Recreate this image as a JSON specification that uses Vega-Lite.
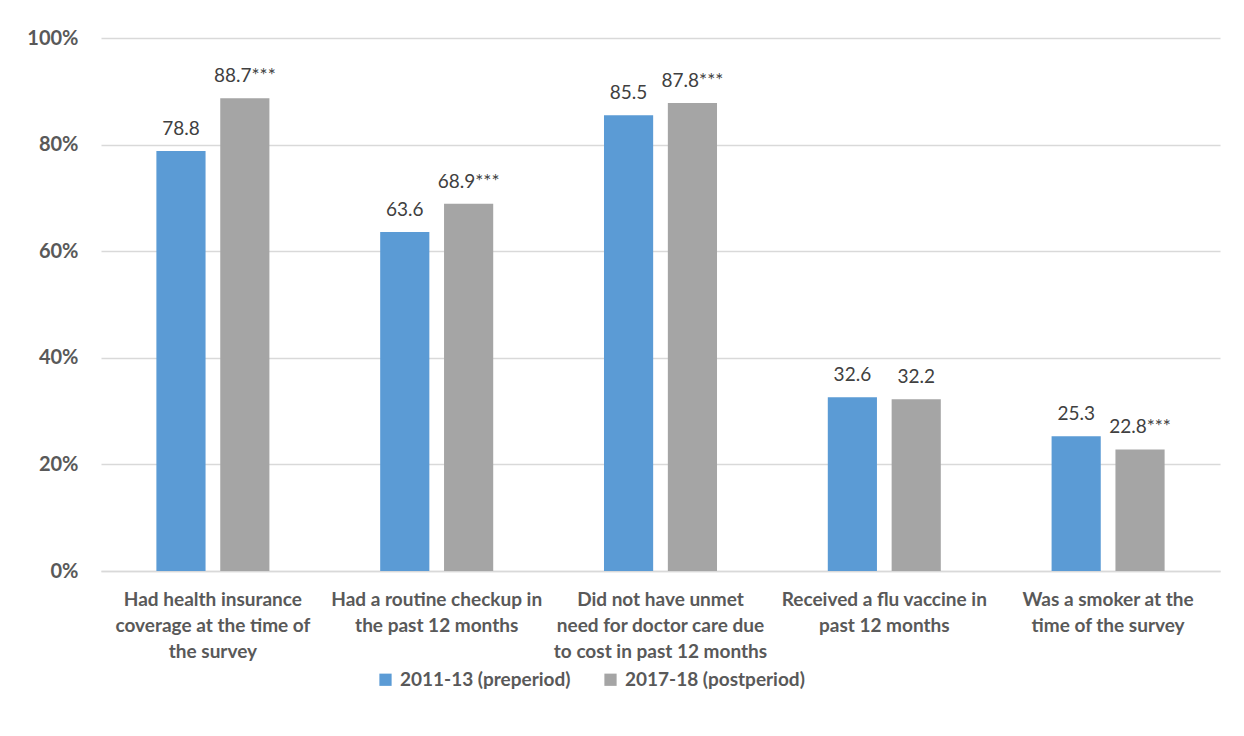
{
  "$schema": "https://vega.github.io/schema/vega-lite/v6.json",
  "width": 1119,
  "height": 533,
  "autosize": {"type": "none"},
  "padding": {"left": 101, "top": 38, "right": 24, "bottom": 165},
  "background": "white",
  "config": {
    "font": "Lato",
    "view": {"stroke": null},
    "axis": {"labelColor": "#595959", "labelFont": "Lato"},
    "legend": {"labelColor": "#595959"}
  },
  "data": {
    "values": [
      {"measure": "Had health insurance|coverage at the time of|the survey", "period": "2011-13 (preperiod)", "value": 78.8, "label": "78.8"},
      {"measure": "Had health insurance|coverage at the time of|the survey", "period": "2017-18 (postperiod)", "value": 88.7, "label": "88.7***"},
      {"measure": "Had a routine checkup in|the past 12 months", "period": "2011-13 (preperiod)", "value": 63.6, "label": "63.6"},
      {"measure": "Had a routine checkup in|the past 12 months", "period": "2017-18 (postperiod)", "value": 68.9, "label": "68.9***"},
      {"measure": "Did not have unmet|need for doctor care due|to cost in past 12 months", "period": "2011-13 (preperiod)", "value": 85.5, "label": "85.5"},
      {"measure": "Did not have unmet|need for doctor care due|to cost in past 12 months", "period": "2017-18 (postperiod)", "value": 87.8, "label": "87.8***"},
      {"measure": "Received a flu vaccine in|past 12 months", "period": "2011-13 (preperiod)", "value": 32.6, "label": "32.6"},
      {"measure": "Received a flu vaccine in|past 12 months", "period": "2017-18 (postperiod)", "value": 32.2, "label": "32.2"},
      {"measure": "Was a smoker at the|time of the survey", "period": "2011-13 (preperiod)", "value": 25.3, "label": "25.3"},
      {"measure": "Was a smoker at the|time of the survey", "period": "2017-18 (postperiod)", "value": 22.8, "label": "22.8***"}
    ]
  },
  "encoding": {
    "x": {
      "field": "measure",
      "type": "nominal",
      "sort": null,
      "scale": {"paddingInner": 0.495, "paddingOuter": 0.2475},
      "axis": {
        "title": null,
        "labelAngle": 0,
        "labelExpr": "split(datum.value, '|')",
        "labelFontSize": 19,
        "labelFontWeight": "bold",
        "labelLineHeight": 26,
        "labelPadding": 19,
        "labelLimit": 300,
        "ticks": false,
        "domainColor": "#D9D9D9",
        "domainWidth": 1.5,
        "grid": false
      }
    },
    "xOffset": {
      "field": "period",
      "type": "nominal",
      "scale": {"paddingInner": 0.23, "paddingOuter": 0}
    },
    "y": {
      "field": "value",
      "type": "quantitative",
      "scale": {"domain": [0, 100]},
      "axis": {
        "title": null,
        "values": [0, 20, 40, 60, 80, 100],
        "labelExpr": "datum.value + '%'",
        "labelFontSize": 20,
        "labelFontWeight": "bold",
        "labelPadding": 23,
        "ticks": false,
        "domain": false,
        "gridColor": "#D9D9D9",
        "gridWidth": 1.5
      }
    }
  },
  "layer": [
    {
      "mark": {"type": "bar"},
      "encoding": {
        "color": {
          "field": "period",
          "type": "nominal",
          "scale": {"range": ["#5B9BD5", "#A5A5A5"]},
          "legend": {
            "title": null,
            "orient": "none",
            "legendX": 275,
            "legendY": 632,
            "direction": "horizontal",
            "symbolType": "square",
            "symbolSize": 150,
            "symbolStrokeWidth": 0,
            "symbolOffset": 0,
            "labelFontSize": 19,
            "labelFontWeight": "bold",
            "labelLimit": 400,
            "labelOffset": 5,
            "columnPadding": 30
          }
        }
      }
    },
    {
      "mark": {"type": "text", "baseline": "alphabetic", "dy": -16, "fontSize": 19, "color": "#404040"},
      "encoding": {
        "text": {"field": "label"}
      }
    }
  ]
}
